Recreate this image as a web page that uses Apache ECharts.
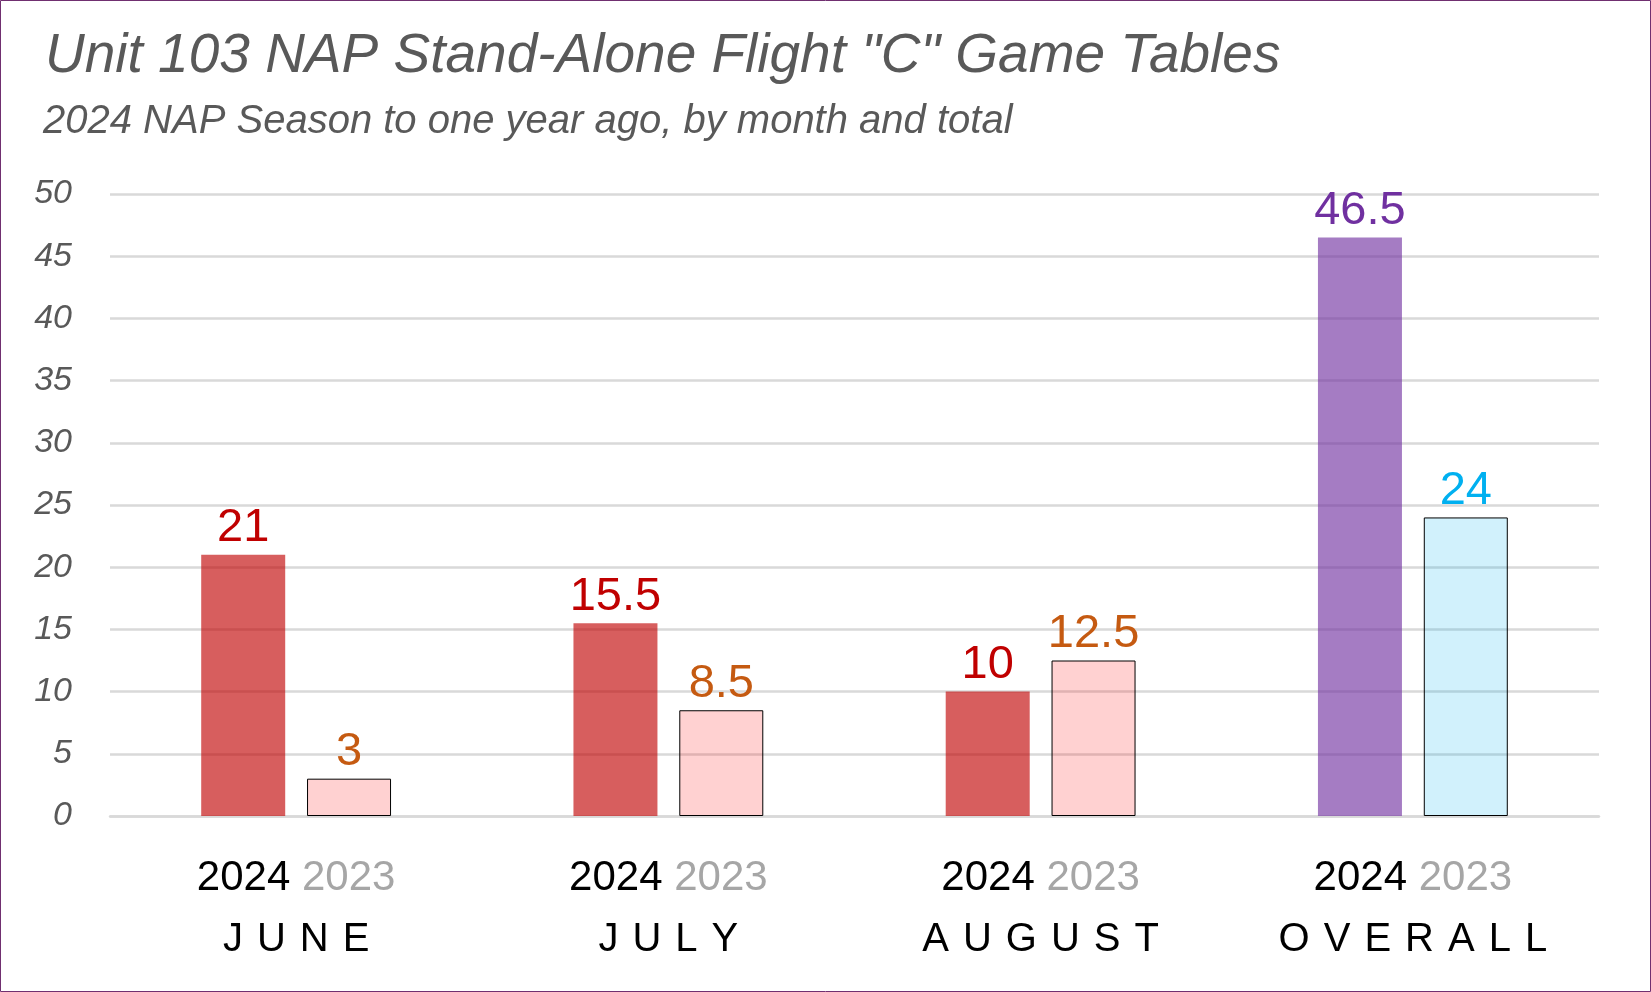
<!DOCTYPE html>
<html>
<head>
    <meta http-equiv="Content-Type" content="text/html; charset=UTF-8">
    <title>Unit 103 NAP Flight C</title>
    <script type="text/javascript" src="https://cdn.jsdelivr.net/npm/echarts@6/dist/echarts.min.js"></script>
    <style>
        body { margin: 0; padding: 0; background: #fff; }
        #mainA { width: 1651px; height: 992px; }
    </style>
</head>
<body>
<div id="mainA"></div>
<script type="text/javascript">
    // data
    var categories = ['JUNE', 'JULY', 'AUGUST', 'OVERALL'];
    var yearNow = '2024';
    var yearPrev = '2023';
    var tables2024 = [21, 15.5, 10, 46.5];
    var tables2023 = [3, 8.5, 12.5, 24];
    var yTicks = [0, 5, 10, 15, 20, 25, 30, 35, 40, 45, 50];

    var fontMain = "'Liberation Sans', Arial, sans-serif";

    // last category (overall) gets its own colours
    function buildData(vals, fill, border, labelColor, fillLast, labelLast) {
        var out = [];
        for (var i = 0; i < vals.length; i++) {
            var last = (i == vals.length - 1);
            out.push({
                value: vals[i],
                itemStyle: {color: last ? fillLast : fill, borderColor: border, borderWidth: border ? 1 : 0},
                label: {color: last ? labelLast : labelColor}
            });
        }
        return out;
    }

    var labelBase = {
        show: true,
        position: 'top',
        distance: 3,
        fontSize: 47,
        fontFamily: fontMain
    };

    var option = {
        backgroundColor: '#fff',
        animation: false,
        title: [
            {
                text: 'Unit 103 NAP Stand-Alone Flight "C" Game Tables',
                left: 40, top: 24,
                textStyle: {fontSize: 55, fontStyle: 'italic', fontWeight: 'normal', color: '#595959', fontFamily: fontMain}
            },
            {
                text: '2024 NAP Season to one year ago, by month and total',
                left: 38, top: 97,
                textStyle: {fontSize: 40, fontStyle: 'italic', fontWeight: 'normal', color: '#595959', fontFamily: fontMain}
            }
        ],
        graphic: [{
            type: 'rect',
            shape: {x: 0.5, y: 0.5, width: 1650, height: 991},
            style: {fill: 'none', stroke: '#702F70', lineWidth: 1},
            silent: true
        }],
        grid: {left: 110, right: 52, top: 194, bottom: 176},
        xAxis: {
            type: 'category',
            data: categories,
            axisTick: {show: false},
            axisLine: {lineStyle: {color: '#D9D9D9', width: 2.5}},
            axisLabel: {
                margin: 32,
                interval: 0,
                formatter: function (name) {
                    var letters = name.split('').map(function (c) { return '{m|' + c + '}'; }).join('');
                    return '{a|' + yearNow + ' }{b|' + yearPrev + '}\n' + letters;
                },
                rich: {
                    a: {fontSize: 42, color: '#000', lineHeight: 61, fontFamily: fontMain},
                    b: {fontSize: 42, color: '#A6A6A6', lineHeight: 61, fontFamily: fontMain},
                    m: {fontSize: 40, color: '#000', lineHeight: 61, padding: [0, 7], fontFamily: fontMain}
                }
            }
        },
        yAxis: {
            type: 'value',
            min: yTicks[0],
            max: yTicks[yTicks.length - 1],
            interval: 5,
            axisLine: {show: false},
            axisTick: {show: false},
            splitLine: {lineStyle: {color: '#D9D9D9', width: 2.5}},
            axisLabel: {
                margin: 38,
                fontSize: 34,
                fontStyle: 'italic',
                color: '#595959',
                fontFamily: fontMain
            }
        },
        series: [
            {
                name: yearNow,
                type: 'bar',
                barWidth: 84,
                barGap: '26%',
                data: buildData(tables2024, 'rgba(192,0,0,0.63)', null, '#C00000', 'rgba(112,48,160,0.63)', '#7030A0'),
                label: labelBase
            },
            {
                name: yearPrev,
                type: 'bar',
                barWidth: 84,
                barGap: '26%',
                data: buildData(tables2023, 'rgba(255,0,0,0.18)', '#000', '#C55A11', 'rgba(0,176,240,0.18)', '#00B0F0'),
                label: labelBase
            }
        ]
    };

    var gobj_chart = echarts.init(document.getElementById('mainA'));
    gobj_chart.setOption(option);
</script>
</body>
</html>
